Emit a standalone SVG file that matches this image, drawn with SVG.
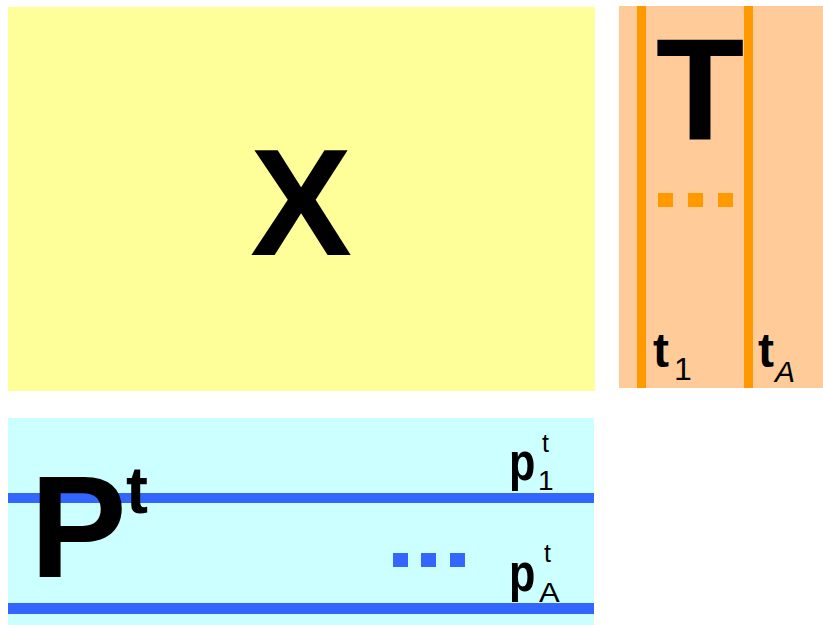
<svg xmlns="http://www.w3.org/2000/svg" width="823" height="625" viewBox="0 0 823 625">
<style>
.b{font-family:"Liberation Sans",Arial,sans-serif;font-weight:bold;fill:#000}
.r{font-family:"Liberation Sans",Arial,sans-serif;fill:#000}
</style>
<rect width="823" height="625" fill="#fff"/>
<g id="X">
<rect x="8" y="7" width="587" height="384" fill="#FFFF99"/>
<text class="b" x="301" y="255" font-size="153" text-anchor="middle">X</text>
</g>
<g id="T">
<rect x="619" y="6" width="204" height="382" fill="#FFCC99"/>
<rect x="637" y="6" width="9" height="382" fill="#FF9900"/>
<rect x="744" y="6" width="9" height="382" fill="#FF9900"/>
<text class="b" x="700" y="140" font-size="145" text-anchor="middle">T</text>
<rect x="658" y="193" width="15" height="14" fill="#FF9900"/>
<rect x="688" y="193" width="15" height="14" fill="#FF9900"/>
<rect x="718" y="193" width="15" height="14" fill="#FF9900"/>
<text class="b" x="653" y="367" font-size="48">t</text>
<text class="r" x="674" y="380" font-size="32">1</text>
<text class="b" x="758" y="367" font-size="48">t</text>
<text class="r" x="775" y="382" font-size="30" font-style="italic">A</text>
</g>
<g id="P">
<rect x="8" y="418" width="586" height="207" fill="#CCFFFF"/>
<rect x="8" y="493" width="586" height="10" fill="#3366FF"/>
<rect x="8" y="603" width="586" height="11" fill="#3366FF"/>
<text class="b" x="30" y="577" font-size="145">P</text>
<text class="b" x="126" y="513" font-size="66">t</text>
<rect x="393" y="553" width="15" height="14" fill="#3366FF"/>
<rect x="421" y="553" width="15" height="14" fill="#3366FF"/>
<rect x="450" y="553" width="15" height="14" fill="#3366FF"/>
<text class="b" font-size="54" transform="translate(509,480) scale(0.8,1)">p</text>
<text class="r" x="538" y="490" font-size="28">1</text>
<text class="r" x="542" y="452" font-size="25">t</text>
<text class="b" font-size="54" transform="translate(509,591) scale(0.8,1)">p</text>
<text class="r" font-size="27" transform="translate(539,602) scale(1.15,1)">A</text>
<text class="r" x="544" y="562" font-size="25">t</text>
</g>
<g id="connectors"/>
</svg>
